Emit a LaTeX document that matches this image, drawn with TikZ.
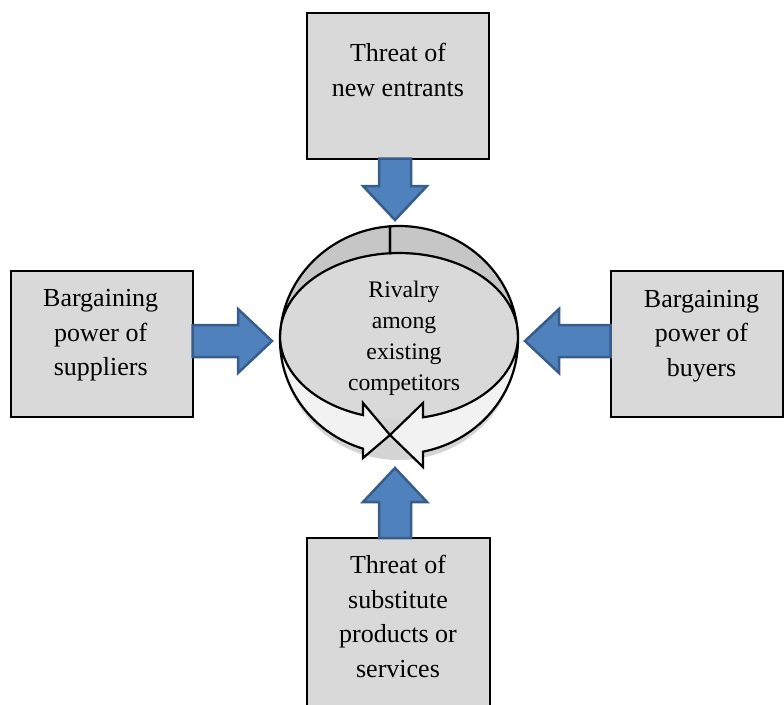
\documentclass[tikz,border=0pt]{standalone}
\usepackage{fontspec}
\setmainfont{Liberation Serif}
\usetikzlibrary{calc}
\definecolor{boxfill}{HTML}{D9D9D9}
\definecolor{arrfill}{HTML}{4F81BD}
\definecolor{arrline}{HTML}{385D8A}
\definecolor{bandlight}{HTML}{F2F2F2}
\definecolor{banddark}{HTML}{C6C6C6}
\definecolor{facegray}{HTML}{D9D9D9}
\definecolor{shadowgray}{HTML}{D4D4D4}
\newcommand\blockarrow[2]{%
  \draw[barrow] ($(#1)!16pt!90:(#2)$) -- ($(#2)!34pt!(#1)!16pt!90:(#2)$) -- ($(#2)!34pt!(#1)!32pt!90:(#2)$) -- (#2) -- ($(#2)!34pt!(#1)!32pt!-90:(#2)$) -- ($(#2)!34pt!(#1)!16pt!-90:(#2)$) -- ($(#1)!16pt!-90:(#2)$) -- cycle;}
\newcommand\leftringpath{($(C2)+(265.7:119 and 114)$) arc[start angle=265.7,end angle=107.6,x radius=119,y radius=114] -- (363,458) -- (X) -- (363,403) -- ($(C1)+(107.6:119 and 83)$) arc[start angle=107.6,end angle=265.7,x radius=119,y radius=83] -- cycle}
\newcommand\rightringpath{($(C2)+(265.7:119 and 114)$) arc[start angle=265.7,end angle=438.4,x radius=119,y radius=114] -- (423,467) -- (X) -- (423,403) -- ($(C1)+(438.4:119 and 83)$) arc[start angle=438.4,end angle=265.7,x radius=119,y radius=83] -- cycle}
\begin{document}
\begin{tikzpicture}[x=1pt,y=-1pt,
  box/.style={draw=black,line width=2pt,fill=boxfill,inner sep=0pt,outer sep=0pt},
  boxtext/.style={align=center,inner sep=0pt,font=\fontsize{26}{34.5}\selectfont},
  ringtext/.style={align=center,inner sep=0pt,font=\fontsize{23.7}{31}\selectfont},
  barrow/.style={draw=arrline,fill=arrfill,line width=2.5pt,line join=miter},
  ringline/.style={draw=black,line width=2.2pt,line join=miter},
  ]
\useasboundingbox (0,0) rectangle (784,704);
\clip (0,0) rectangle (784,704);
% boxes
\node[box,minimum width=182pt,minimum height=146pt] (top) at (397.5,85.5) {};
\node[box,minimum width=182pt,minimum height=146pt] (left) at (101.5,343.5) {};
\node[box,minimum width=172pt,minimum height=146pt] (right) at (696.5,343.5) {};
\node[box,minimum width=183pt,minimum height=184pt] (bottom) at (398,630) {};
\node[boxtext] (toptext) at (398,72) {\strut Threat of\\\strut new entrants};
\node[boxtext] (lefttext) at (100.7,334.4) {\strut Bargaining\\\strut power of\\\strut suppliers};
\node[boxtext] (righttext) at (701.5,334.8) {\strut Bargaining\\\strut power of\\\strut buyers};
\node[boxtext] (bottomtext) at (398,618.8) {\strut Threat of\\\strut substitute\\\strut products or\\\strut services};
% ring
\coordinate (C1) at (399,336);
\coordinate (C2) at (399,340);
\coordinate (X) at (390,435);
\fill[shadowgray] (399,347) ellipse [x radius=117, y radius=113];
\fill[facegray] (C1) ellipse [x radius=119, y radius=83];
\fill[bandlight] \leftringpath;
\fill[bandlight] \rightringpath;
\fill[banddark] ($(C2)+(180:119 and 114)$) arc[start angle=180,end angle=360,x radius=119,y radius=114] -- ($(C1)+(0:119 and 83)$) arc[start angle=360,end angle=180,x radius=119,y radius=83] -- cycle;
\draw[ringline] \leftringpath;
\draw[ringline] \rightringpath;
\node[ringtext] (rival) at (404,337.3) {\strut Rivalry\\\strut among\\\strut existing\\\strut competitors};
% block arrows
\coordinate (tipT) at (395,220);
\coordinate (tipL) at (272,341);
\coordinate (tipR) at (525,341);
\coordinate (tipB) at (395,468);
\coordinate (srcT) at (top.south -| tipT);
\coordinate (srcL) at (left.east |- tipL);
\coordinate (srcR) at (right.west |- tipR);
\coordinate (srcB) at (bottom.north -| tipB);
\blockarrow{srcT}{tipT}
\blockarrow{srcL}{tipL}
\blockarrow{srcR}{tipR}
\blockarrow{srcB}{tipB}
\end{tikzpicture}
\end{document}
